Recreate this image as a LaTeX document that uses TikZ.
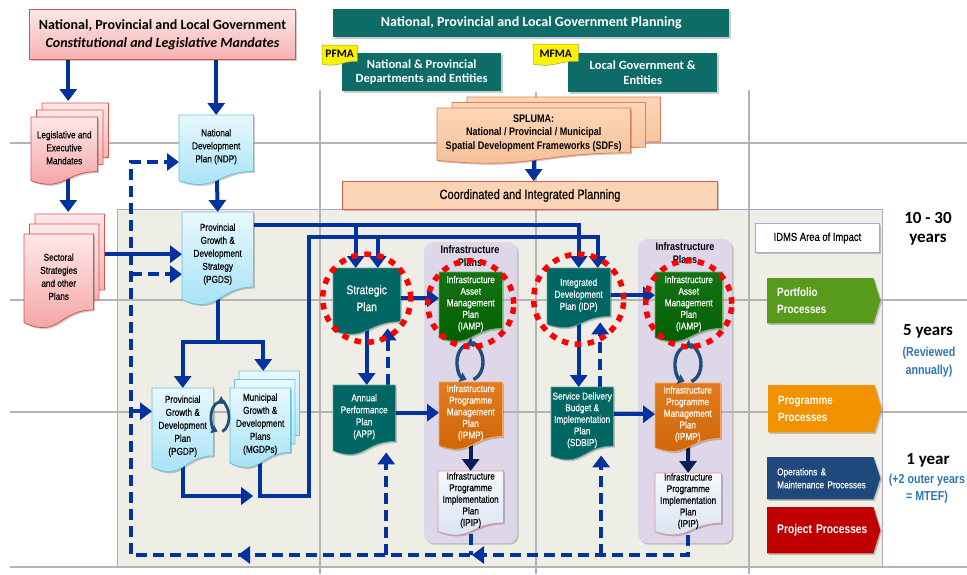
\documentclass[tikz,border=0pt]{standalone}
\usepackage{fontspec}
\setmainfont{Liberation Sans}
\newfontfamily\narrowfont[FakeStretch=0.82, UprightFeatures={FakeBold=0.35}]{Liberation Sans}
\newfontfamily\calfont{Carlito}
\usetikzlibrary{arrows.meta,calc,decorations.markings}

\definecolor{conblue}{RGB}{0,51,160}
\definecolor{navy}{RGB}{12,30,90}
\definecolor{teal1}{RGB}{0,102,100}
\definecolor{tealtop}{RGB}{14,108,104}
\definecolor{green1}{RGB}{0,92,0}
\definecolor{green2}{RGB}{20,115,20}
\definecolor{greenline}{RGB}{110,180,90}
\definecolor{orange1}{RGB}{205,100,5}
\definecolor{orange2}{RGB}{228,122,32}
\definecolor{orangeline}{RGB}{245,170,100}
\definecolor{beige}{RGB}{238,237,230}
\definecolor{lav}{RGB}{221,215,233}
\definecolor{lavline}{RGB}{180,165,205}
\definecolor{gridgray}{RGB}{180,180,180}
\definecolor{pinktop}{RGB}{255,232,232}
\definecolor{pinkbot}{RGB}{244,158,158}
\definecolor{pinkline}{RGB}{217,83,79}
\definecolor{bluetop}{RGB}{232,248,254}
\definecolor{bluebot}{RGB}{160,224,245}
\definecolor{blueline}{RGB}{110,195,220}
\definecolor{peachtop}{RGB}{251,214,184}
\definecolor{peach}{RGB}{246,190,148}
\definecolor{peachline}{RGB}{225,125,90}
\definecolor{coordfill}{RGB}{251,212,182}
\definecolor{coordline}{RGB}{222,90,80}
\definecolor{ipiptop}{RGB}{246,248,252}
\definecolor{ipipbot}{RGB}{214,226,242}
\definecolor{ipipline}{RGB}{230,150,150}
\definecolor{portgreen}{RGB}{88,155,28}
\definecolor{progorange}{RGB}{242,146,0}
\definecolor{omblue}{RGB}{31,73,125}
\definecolor{projred}{RGB}{192,0,0}
\definecolor{noteblue}{RGB}{46,117,182}
\definecolor{cycleblue}{RGB}{31,78,121}
\definecolor{ringred}{RGB}{255,0,0}

\pgfdeclarelayer{bg}
\pgfdeclarelayer{grid}
\pgfdeclarelayer{conn}
\pgfdeclarelayer{shp}
\pgfsetlayers{bg,grid,conn,shp,main}

% document outline (flat top, wavy bottom) built on a node's box
\newcommand\docshape[2]{%
  \path[#2] (#1.north west) -- (#1.north east)
    -- ($(#1.north east)!0.889!(#1.south east)$)
    .. controls ($(#1.north)!0.889!(#1.south)$) and ($(#1.north)!1.23!(#1.south)$)
    .. ($(#1.north west)!1.038!(#1.south west)$) -- cycle;}
\newcommand\docpath[2]{\begin{pgfonlayer}{shp}\docshape{#1}{#2}\end{pgfonlayer}}
% process tag with a pointed right end
\newcommand\chevpath[2]{%
  \begin{pgfonlayer}{shp}
  \path[#2] (#1.north west) -- ([xshift=-7pt]#1.north east) -- (#1.east)
    -- ([xshift=-7pt]#1.south east) -- (#1.south west) -- cycle;
  \end{pgfonlayer}}
% pair of arcs forming a cycle mark: centre x, centre y, x radius, y radius, style
\newcommand\cyclemark[5]{%
  \draw[#5] ({#1+#3*cos(75)},{#2-#4*sin(75)}) arc[start angle=-75, end angle=-255, x radius=#3, y radius=#4];
  \draw[#5] ({#1+#3*cos(75)},{#2+#4*sin(75)}) arc[start angle=75, end angle=-105, x radius=#3, y radius=#4];}

\begin{document}
\begin{tikzpicture}[x=1pt,y=-1pt,
  txt/.style={inner sep=0pt, align=center, anchor=north west},
  docbox/.style 2 args={txt, minimum width=#1, minimum height=#2},
  f10/.style={font=\narrowfont\fontsize{10}{13}\selectfont},
  f10t/.style={font=\narrowfont\fontsize{10}{11.6}\selectfont},
  f10m/.style={font=\narrowfont\fontsize{10}{12}\selectfont},
  wt/.style={text=white},
  conn/.style={draw=conblue, line width=4pt, -{Triangle[width=17pt,length=12pt]}},
  dconn/.style={conn, dash pattern=on 11pt off 6pt},
  gridline/.style={draw=gridgray, line width=2pt},
  shad/.style={preaction={fill=black, fill opacity=0.2, transform canvas={xshift=1.5pt,yshift=-1.5pt}}},
  pinkdoc/.style={top color=pinktop, bottom color=pinkbot, draw=pinkline, line width=0.8pt},
  bluedoc/.style={top color=bluetop, bottom color=bluebot, draw=blueline, line width=0.8pt},
  tealdoc/.style={fill=teal1, draw=teal1!60!white, line width=0.6pt},
  greendoc/.style={top color=green2, bottom color=green1, draw=greenline, line width=0.8pt},
  orangedoc/.style={top color=orange2, bottom color=orange1, draw=orangeline, line width=0.8pt},
  ipipdoc/.style={top color=ipiptop, bottom color=ipipbot, draw=ipipline, line width=0.8pt},
  peachdoc/.style={top color=peachtop, bottom color=peach, draw=peachline, line width=0.8pt},
  redring/.style={circle, draw=ringred, line width=5.5pt, dash pattern=on 6.5pt off 6.5pt, inner sep=0pt, minimum size=#1},
  cyc/.style={draw=cycleblue, line width=2.8pt, -{Triangle[width=8.5pt,length=6pt]}},
  cycbig/.style={draw=cycleblue, line width=3.4pt, -{Triangle[width=10pt,length=6.5pt]}},
  procbox/.style={txt, minimum width=113, inner xsep=10pt, text width=93pt, align=left, text=white},
  span/.style={inner sep=0pt, align=center, font=\calfont\bfseries\fontsize{17}{19}\selectfont},
  note/.style={inner sep=0pt, align=center, text=noteblue, font=\narrowfont\bfseries\fontsize{13}{18}\selectfont},
]
\useasboundingbox (0,0) rectangle (967,574);

% ---------- backdrop ----------
\begin{pgfonlayer}{bg}
\fill[white] (0,0) rectangle (967,574);
\draw[fill=beige, draw=lavline, line width=0.8pt] (117,209) rectangle (882,567);
\end{pgfonlayer}

\begin{pgfonlayer}{grid}
\node[docbox={93}{301}, rounded corners=9pt, fill=lav, shad] (ip1) at (424,242) {};
\node[docbox={94}{304}, rounded corners=9pt, fill=lav, shad] (ip2) at (638,239) {};
\draw[gridline] (10,143) -- (967,143);
\draw[gridline] (10,300) -- (967,300);
\draw[gridline] (10,412) -- (967,412);
\draw[gridline] (10,567) -- (967,567);
\draw[gridline] (320,90) -- (320,574);
\draw[gridline] (536,92) -- (536,574);
\draw[gridline] (749,90) -- (749,574);
\end{pgfonlayer}

% ---------- header boxes ----------
\node[docbox={266}{50}, top color=pinktop, bottom color=pinkbot!80, draw=pinkline, line width=1pt, shad,
      font=\calfont\bfseries\fontsize{14}{18}\selectfont] (title1) at (29,9)
  {National, Provincial and Local Government\\\itshape Constitutional and Legislative Mandates};

\begin{pgfonlayer}{conn}
\node[docbox={396}{28}, fill=tealtop, shad, wt, font=\calfont\bfseries\fontsize{14}{16}\selectfont] (title2) at (333,9)
  {National, Provincial and Local Government Planning};
\node[docbox={159}{38}, fill=tealtop, shad, wt, font=\calfont\bfseries\fontsize{12.5}{14.5}\selectfont] (npd) at (342,53)
  {National \& Provincial\\Departments and Entities};
\node[docbox={149}{39}, fill=tealtop, shad, wt, font=\calfont\bfseries\fontsize{12.5}{14.5}\selectfont] (lgov) at (568,53)
  {Local Government \&\\Entities};
\end{pgfonlayer}

\node[docbox={35}{18}, font=\calfont\bfseries\fontsize{11.5}{12}\selectfont] (pfma) at (322,45) {PFMA};
\docpath{pfma}{fill=yellow, draw=yellow!60!black, line width=0.5pt}
\node[docbox={45}{19}, font=\calfont\bfseries\fontsize{11.5}{12}\selectfont] (mfma) at (533,44) {MFMA};
\docpath{mfma}{fill=yellow, draw=yellow!60!black, line width=0.5pt}

\node[docbox={193}{50}, font=\narrowfont\bfseries\fontsize{11}{13.5}\selectfont] (spluma) at (437,108)
  {SPLUMA:\\National / Provincial / Municipal\\Spatial Development Frameworks (SDFs)};
\docpath{spluma}{peachdoc, transform canvas={xshift=30pt,yshift=11pt}}
\docpath{spluma}{peachdoc, transform canvas={xshift=15pt,yshift=5.5pt}}
\docpath{spluma}{peachdoc, shad}

\node[docbox={375}{28}, fill=coordfill, draw=coordline, line width=1pt, shad,
      font=\narrowfont\fontsize{13.5}{15}\selectfont] (coord) at (342,181) {Coordinated and Integrated Planning};

% ---------- mandates and strategies ----------
\node[docbox={66}{61}, f10] (legis) at (31,117) {Legislative and\\Executive\\Mandates};
\docpath{legis}{pinkdoc, transform canvas={xshift=11pt,yshift=14pt}}
\docpath{legis}{pinkdoc, transform canvas={xshift=5.5pt,yshift=7pt}}
\docpath{legis}{pinkdoc, shad}

\node[docbox={69}{85}, f10] (sect) at (24,234) {Sectoral\\Strategies\\and other\\Plans};
\docpath{sect}{pinkdoc, transform canvas={xshift=11pt,yshift=20pt}}
\docpath{sect}{pinkdoc, transform canvas={xshift=5.5pt,yshift=10pt}}
\docpath{sect}{pinkdoc, shad}

\node[docbox={74}{63}, f10] (ndp) at (179,115) {National\\Development\\Plan (NDP)};
\docpath{ndp}{bluedoc, shad}
\node[docbox={71}{84}, f10] (pgds) at (182,212) {Provincial\\Growth \&\\Development\\Strategy\\(PGDS)};
\docpath{pgds}{bluedoc, shad}
\node[docbox={61}{76}, f10] (pgdp) at (152,388) {Provincial\\Growth \&\\Development\\Plan\\(PGDP)};
\docpath{pgdp}{bluedoc, shad}
\node[docbox={60}{72}, f10] (mgdp) at (230,388) {Municipal\\Growth \&\\Development\\Plans\\(MGDPs)};
\docpath{mgdp}{bluedoc, transform canvas={xshift=9pt,yshift=17pt}}
\docpath{mgdp}{bluedoc, transform canvas={xshift=4.5pt,yshift=8.5pt}}
\docpath{mgdp}{bluedoc, shad}

% ---------- departmental and municipal plans ----------
\node[docbox={67}{60}, wt, font=\narrowfont\fontsize{12.5}{17}\selectfont] (strat) at (333,268) {Strategic\\Plan};
\docpath{strat}{tealdoc, shad}
\node[docbox={62}{63}, wt, f10m] (app) at (333,385) {Annual\\Performance\\Plan\\(APP)};
\docpath{app}{tealdoc, shad}
\node[docbox={63}{54}, wt, f10m] (idp) at (547,268) {Integrated\\Development\\Plan (IDP)};
\docpath{idp}{tealdoc, shad}
\node[docbox={62}{66}, wt, f10t] (sdbip) at (551,387) {Service Delivery\\Budget \&\\Implementation\\Plan\\(SDBIP)};
\docpath{sdbip}{tealdoc, shad}

% ---------- infrastructure plans ----------
\node[inner sep=0pt, align=center, font=\narrowfont\bfseries\fontsize{11}{12.5}\selectfont] (ip1t) at (470,256) {Infrastructure\\Plans};
\node[inner sep=0pt, align=center, font=\narrowfont\bfseries\fontsize{11}{12.5}\selectfont] (ip2t) at (685,253) {Infrastructure\\Plans};

\node[docbox={63}{63}, wt, f10t] (iamp1) at (439,272) {Infrastructure\\Asset\\Management\\Plan\\(IAMP)};
\docpath{iamp1}{greendoc, shad}
\node[docbox={63}{61}, wt, f10t] (ipmp1) at (439,382) {Infrastructure\\Programme\\Management\\Plan\\(IPMP)};
\docpath{ipmp1}{orangedoc, shad}
\node[docbox={65}{58}, f10t] (ipip1) at (438,471) {Infrastructure\\Programme\\Implementation\\Plan\\(IPIP)};
\docpath{ipip1}{ipipdoc, shad}

\node[docbox={67}{63}, wt, f10t] (iamp2) at (655,272) {Infrastructure\\Asset\\Management\\Plan\\(IAMP)};
\docpath{iamp2}{greendoc, shad}
\node[docbox={65}{62}, wt, f10t] (ipmp2) at (655,383) {Infrastructure\\Programme\\Management\\Plan\\(IPMP)};
\docpath{ipmp2}{orangedoc, shad}
\node[docbox={66}{56}, f10t] (ipip2) at (655,473) {Infrastructure\\Programme\\Implementation\\Plan\\(IPIP)};
\docpath{ipip2}{ipipdoc, shad}

% ---------- legend and horizons ----------
\node[docbox={124}{29}, fill=white, draw=lavline, line width=0.8pt, shad,
      font=\narrowfont\fontsize{11.5}{13}\selectfont] (idms) at (755,223) {IDMS Area of Impact};

\node[procbox, minimum height=45, font=\narrowfont\bfseries\fontsize{12}{17}\selectfont] (port) at (767,278) {Portfolio\\Processes};
\chevpath{port}{fill=portgreen, shad}
\node[procbox, minimum height=47, font=\narrowfont\bfseries\fontsize{12}{17}\selectfont] (prog) at (768,385) {Programme\\Processes};
\chevpath{prog}{fill=progorange, shad}
\node[procbox, minimum height=42, font=\narrowfont\fontsize{10}{13}\selectfont] (om) at (767,457) {Operations \&\\Maintenance Processes};
\chevpath{om}{fill=omblue, shad}
\node[procbox, minimum height=46, font=\narrowfont\bfseries\fontsize{12.5}{14}\selectfont] (proj) at (767,507) {Project Processes};
\chevpath{proj}{fill=projred, shad}

\node[span] (span1) at (928,229) {10 - 30\\years};
\node[span] (span2) at (928,331) {5 years};
\node[note] (note2) at (929,362) {(Reviewed\\annually)};
\node[span] (span3) at (928,460) {1 year};
\node[note, font=\narrowfont\bfseries\fontsize{13}{17}\selectfont] (note3) at (927,489) {(+2 outer years\\= MTEF)};

% ---------- connectors ----------
\begin{pgfonlayer}{conn}
\path ([xshift=4pt]legis.north) ++(0,-16) coordinate (legisIn);
\path ([xshift=9.5pt]sect.north) ++(0,-22) coordinate (sectIn);
\draw[conn] (title1.south -| legisIn) -- (legisIn);
\draw[conn] (title1.south -| ndp.north) -- (ndp.north);
\draw[conn] (legis.center -| sectIn) -- (sectIn);
\draw[conn] (ndp.center) -- (pgds.north);
\draw[conn] (sect.center |- pgds.center) -- (pgds.west);

% strategy bus into the strategic and integrated plans
\path (pgds.north east) ++(0,13) coordinate (busA);
\path (strat.north) ++(-11,0) coordinate (sA);
\path (strat.north) ++(11,0) coordinate (sB);
\path (idp.north) ++(19,0) coordinate (iB);
\draw[conn] (pgds.center |- busA) -| (idp.north);
\draw[conn] (sA |- busA) -- (sA);

% municipal plans bus
\coordinate (loopR) at (309,496);
\coordinate (busB) at (309,237);
\draw[conn] (mgdp.center) |- (loopR) -- (busB) -| (iB);
\draw[conn] (sB |- busB) -- (sB);

% strategy split into provincial and municipal plans
\path (pgds.south) ++(0,46) coordinate (split);
\path (mgdp.north) ++(3,-17) coordinate (mgdpIn);
\draw[conn] (pgds.center) -- (split) -| (pgdp.north);
\draw[conn] (split) -| (mgdpIn);
\path (mgdp.center |- loopR) ++(-7,0) coordinate (mIn);
\draw[conn] (pgdp.center) |- (mIn);

% plan chains
\draw[conn] (strat.center) -- (strat.center |- app.north);
\draw[conn] (strat.center) -- (strat.center -| iamp1.west);
\draw[conn] (app.center |- ipmp1.center) -- (ipmp1.west);
\draw[conn] (idp.center) -- (idp.center |- sdbip.north);
\draw[conn] (idp.center) -- (idp.center -| iamp2.west);
\draw[conn] (sdbip.center |- ipmp2.center) -- (ipmp2.west);
\draw[conn, draw=navy] (ipmp1.center) -- (ipip1.north);
\draw[conn, draw=navy] (ipmp2.center) -- (ipip2.north);
\draw[conn] (spluma.center) -- (spluma.center |- coord.north);

% feedback loop (dashed)
\coordinate (dBL) at (131,555);
\coordinate (dTL) at (131,162);
\draw[dconn, postaction={decorate, decoration={markings,
      mark=at position 270pt with {\arrow{Triangle[width=17pt,length=12pt]}},
      mark=at position 504pt with {\arrow{Triangle[width=17pt,length=12pt]}}}}]
  (ipip2.center) |- (dBL) -- (dTL) -- (dTL -| ndp.west);
\draw[dconn, -] (ipip1.center) -- (ipip1.center |- dBL);
\path (app.south) ++(22,4) coordinate (appIn);
\draw[dconn] (appIn |- dBL) -- (appIn);
\path (sdbip.south) ++(19,2) coordinate (sdbIn);
\draw[dconn] (sdbIn |- dBL) -- (sdbIn);
\path (strat.south) ++(21,0) coordinate (stratIn);
\draw[dconn] (stratIn |- app.north) -- (stratIn);
\path (idp.south) ++(21.5,0) coordinate (idpIn);
\draw[dconn] (idpIn |- sdbip.north) -- (idpIn);
\path (pgds.west) ++(0,20) coordinate (pgdsIn);
\draw[dconn] (dTL |- pgdsIn) -- (pgdsIn);
\path (pgdp.west) ++(0,-15) coordinate (pgdpIn);
\draw[dconn] (dTL |- pgdpIn) -- (pgdpIn);
\end{pgfonlayer}

% ---------- cycle marks ----------
\cyclemark{220}{417}{9}{15}{cyc}
\cyclemark{470}{362}{13}{18}{cycbig}
\cyclemark{688}{364}{13}{18}{cycbig}

% ---------- focus rings ----------
\node[redring=88pt] (ring1) at (strat.center) {};
\node[redring=86pt] (ring2) at (iamp1.center) {};
\node[redring=90pt] (ring3) at ([yshift=-4pt]idp.center) {};
\node[redring=86pt] (ring4) at (iamp2.center) {};
\end{tikzpicture}
\end{document}
